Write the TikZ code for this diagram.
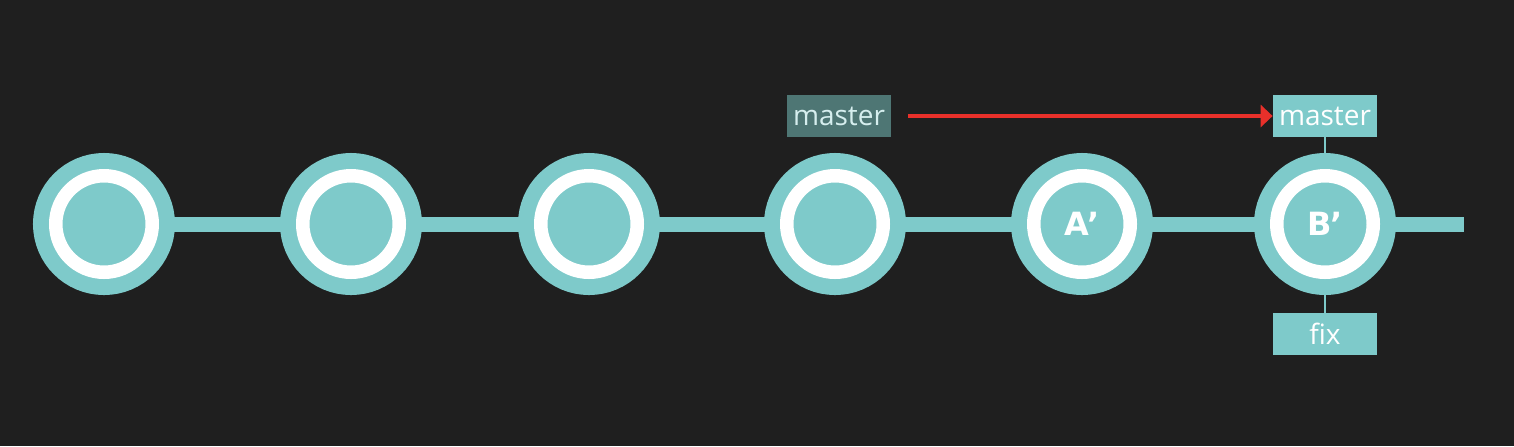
\documentclass[tikz,border=0pt]{standalone}
\usepackage{fontspec}
\setmainfont{Open Sans}
\newfontfamily\commitfont{DejaVu Sans}
\usetikzlibrary{arrows.meta,backgrounds}
\definecolor{bgdark}{HTML}{1F1F1F}
\definecolor{gitteal}{HTML}{7ECACA}
\definecolor{oldbox}{HTML}{4E7674}
\definecolor{oldtext}{HTML}{D6EEEE}
\definecolor{moveRed}{HTML}{E8302A}

\tikzset{
  commit/.style={circle, inner sep=0pt, minimum size=48.25pt,
    fill=gitteal, draw=white, line width=6.75pt,
    preaction={draw=gitteal, line width=22.75pt},
    text=white, font=\commitfont\bfseries\fontsize{16}{16}\selectfont},
  branch/.style={rectangle, fill=gitteal, text=white, inner sep=0pt,
    minimum width=52pt, minimum height=21pt, font=\fontsize{14}{14}\selectfont},
  oldbranch/.style={branch, fill=oldbox, text=oldtext},
  history/.style={gitteal, line width=7.5pt},
  pointer/.style={gitteal, line width=1pt},
  move/.style={moveRed, line width=2pt, -{Triangle[length=6pt, width=11pt]}}
}

\begin{document}
\begin{tikzpicture}[x=0.5pt, y=-0.5pt]
  \useasboundingbox (0,0) rectangle (1514,446);

  % Commits
  \foreach \x/\n/\t in {104/1/{}, 351/2/{}, 589/3/{}, 835/4/{}, 1082/5/A\kern-1pt’, 1325/6/B\kern-1pt’}
    \node[commit] (c\n) at (\x,224) {\t};
  \coordinate (tail) at (1464,224);

  % Branch labels
  \node[oldbranch] (oldmaster) at (839,116) {master};
  \node[branch] (master) at (1325,116) {master};
  \node[branch] (fix) at (1325,334) {fix};

  % History line and pointers
  \begin{scope}[on background layer]
    \fill[bgdark] (0,0) rectangle (1514,446);
    \draw[history] (c1) -- (c2) -- (c3) -- (c4) -- (c5) -- (c6);
    \draw[history] (c6) -- (tail);
    \draw[pointer] (master) -- (c6);
    \draw[pointer] (c6) -- (fix);
  \end{scope}

  % Branch moved
  \draw[move, shorten <=8.5pt] (oldmaster) -- (master);
\end{tikzpicture}
\end{document}
